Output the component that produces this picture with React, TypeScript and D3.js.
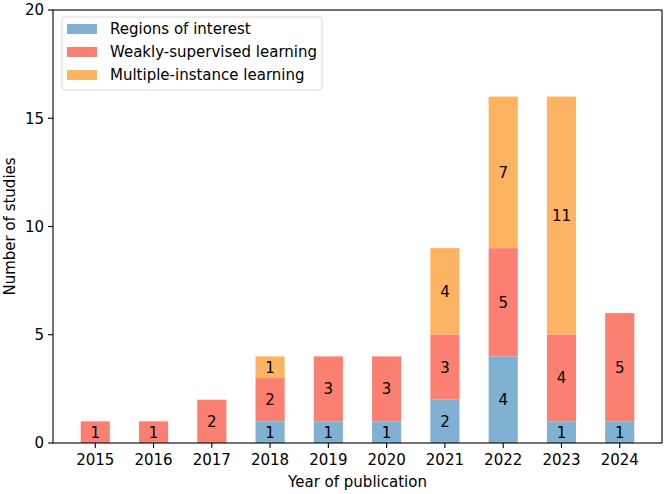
import React from "react";
import * as d3 from "d3";

const years = ["2015", "2016", "2017", "2018", "2019", "2020", "2021", "2022", "2023", "2024"];
const roi = [0, 0, 0, 1, 1, 1, 2, 4, 1, 1];
const wsl = [1, 1, 2, 2, 3, 3, 3, 5, 4, 5];
const mil = [0, 0, 0, 1, 0, 0, 4, 7, 11, 0];
const yTicks = [0, 5, 10, 15, 20];

const seriesNames = ["Regions of interest", "Weakly-supervised learning", "Multiple-instance learning"];
const seriesColors = ["#80b1d3", "#fb8072", "#fdb462"];

const W = 666;
const H = 494;
const M = { left: 53, right: 4, top: 10, bottom: 51 };
const FONT = "DejaVu Sans, sans-serif";
const FS = 15;

const App: React.FC = () => {
  const x = d3.scaleLinear()
    .domain([-0.725, years.length - 1 + 0.725])
    .range([M.left, W - M.right]);
  const y = d3.scaleLinear()
    .domain([0, 20])
    .range([H - M.bottom, M.top]);

  const table = years.map((yr, i) => ({ yr, i, roi: roi[i], wsl: wsl[i], mil: mil[i] }));
  const stacked = d3.stack<any>().keys(["roi", "wsl", "mil"])(table);
  const bw = x(0.5) - x(0);

  return (
    <svg
      width={W}
      height={H}
      style={{ display: "block", position: "absolute", left: 0, top: 0 }}
      fontFamily={FONT}
    >
      <rect width={W} height={H} fill="#fff" />
      {stacked.map((layer, si) => (
        <g key={si}>
          {layer.map((d, i) => {
            const v = d[1] - d[0];
            if (v <= 0) return null;
            return (
              <g key={i}>
                <rect
                  x={x(i) - bw / 2}
                  y={y(d[1])}
                  width={bw}
                  height={y(d[0]) - y(d[1])}
                  fill={seriesColors[si]}
                />
                <text
                  x={x(i)}
                  y={y((d[0] + d[1]) / 2)}
                  dy="0.36em"
                  textAnchor="middle"
                  fontSize={FS}
                  fill="#000"
                >
                  {v}
                </text>
              </g>
            );
          })}
        </g>
      ))}

      {/* spines */}
      <rect
        x={M.left}
        y={M.top}
        width={W - M.right - M.left}
        height={H - M.bottom - M.top}
        fill="none"
        stroke="#000"
        strokeWidth={1.1}
      />

      {/* x axis */}
      {years.map((yr, i) => (
        <g key={yr} transform={`translate(${x(i)},${H - M.bottom})`}>
          <line y2={5} stroke="#000" strokeWidth={1.1} />
          <text y={22} textAnchor="middle" fontSize={FS} fill="#000">{yr}</text>
        </g>
      ))}
      <text x={(M.left + W - M.right) / 2} y={487} textAnchor="middle" fontSize={FS} fill="#000">
        Year of publication
      </text>

      {/* y axis */}
      {yTicks.map((t) => (
        <g key={t} transform={`translate(${M.left},${y(t)})`}>
          <line x2={-5} stroke="#000" strokeWidth={1.1} />
          <text x={-9} dy="0.36em" textAnchor="end" fontSize={FS} fill="#000">{t}</text>
        </g>
      ))}
      <text
        transform={`translate(15,${(M.top + H - M.bottom) / 2}) rotate(-90)`}
        textAnchor="middle"
        fontSize={FS}
        fill="#000"
      >
        Number of studies
      </text>

      {/* legend */}
      <g>
        <rect x={62} y={17} width={260} height={73} rx={3} fill="#fff" fillOpacity={0.8} stroke="#d9d9d9" strokeWidth={1} />
        {seriesNames.map((name, i) => (
          <g key={name} transform={`translate(0,${29 + i * 23})`}>
            <rect x={67} y={-5} width={30} height={10} fill={seriesColors[i]} />
            <text x={110} y={0} dy="0.36em" fontSize={FS} fill="#000">{name}</text>
          </g>
        ))}
      </g>
    </svg>
  );
};

export default App;
